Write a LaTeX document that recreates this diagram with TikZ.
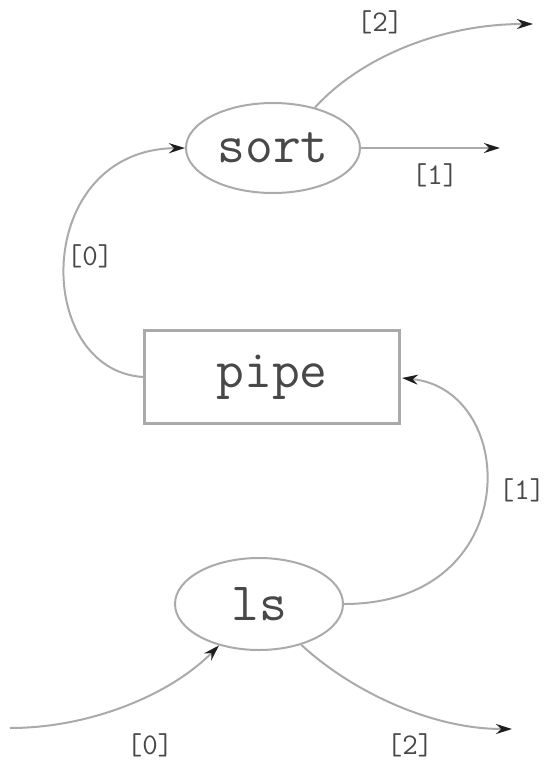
\documentclass[tikz,border=0pt]{standalone}
\usetikzlibrary{shapes.geometric,arrows.meta}
\definecolor{edgegray}{HTML}{AAAAAA}
\definecolor{textgray}{HTML}{484848}
\definecolor{tipgray}{HTML}{1E1E1E}
\begin{document}
\begin{tikzpicture}[x=1pt,y=-1pt,
  proc/.style={draw=edgegray, line width=2pt, ellipse, inner sep=0pt, text=textgray,
    font=\fontsize{54}{56}\selectfont\ttfamily},
  boxnode/.style={draw=edgegray, line width=2.5pt, rectangle, inner sep=0pt, text=textgray,
    font=\fontsize{54}{56}\selectfont\ttfamily},
  conn/.style={draw=edgegray, line width=2pt},
  arr/.style={conn, -{Stealth[length=16pt,width=10pt,color=tipgray]}},
  lab/.style={text=textgray, inner sep=0pt, font=\fontsize{30}{32}\selectfont\ttfamily}]
\useasboundingbox (0,0) rectangle (548,761);

\node[proc, minimum width=174pt, minimum height=90pt] (sort) at (273,148) {sort};
\node[boxnode, minimum width=255pt, minimum height=93pt] (pipe) at (272,377) {pipe};
\node[proc, minimum width=168pt, minimum height=92pt] (ls) at (259,604) {ls};

\coordinate (sortout1) at (500,148);
\coordinate (sortout2) at (533,24);
\coordinate (lsin) at (10,728);
\coordinate (lsout2) at (512,729);
\coordinate (pipeIn) at (402,378);

% sort outputs
\draw[arr] (sort.east) -- (sortout1);
\draw[arr] (sort.44) .. controls (360,58) and (440,24) .. (sortout2);

% pipe -> sort
\draw[arr] (pipe.west) .. controls (32,370) and (32,150) .. (sort.west);

% ls -> pipe
\draw[arr] (ls.east) .. controls (525,604) and (520,390) .. (pipeIn);

% input to ls
\draw[arr] (lsin) .. controls (90,728) and (170,695) .. (ls.226);

% ls output 2
\draw[arr] (ls.316) .. controls (350,690) and (430,729) .. (lsout2);

% labels
\node[lab] (l1) at (380,22) {[2]};
\node[lab] (l2) at (435,175) {[1]};
\node[lab] (l3) at (90,256) {[0]};
\node[lab] (l4) at (522,490) {[1]};
\node[lab] (l5) at (150,745) {[0]};
\node[lab] (l6) at (410,745) {[2]};
\end{tikzpicture}
\end{document}
